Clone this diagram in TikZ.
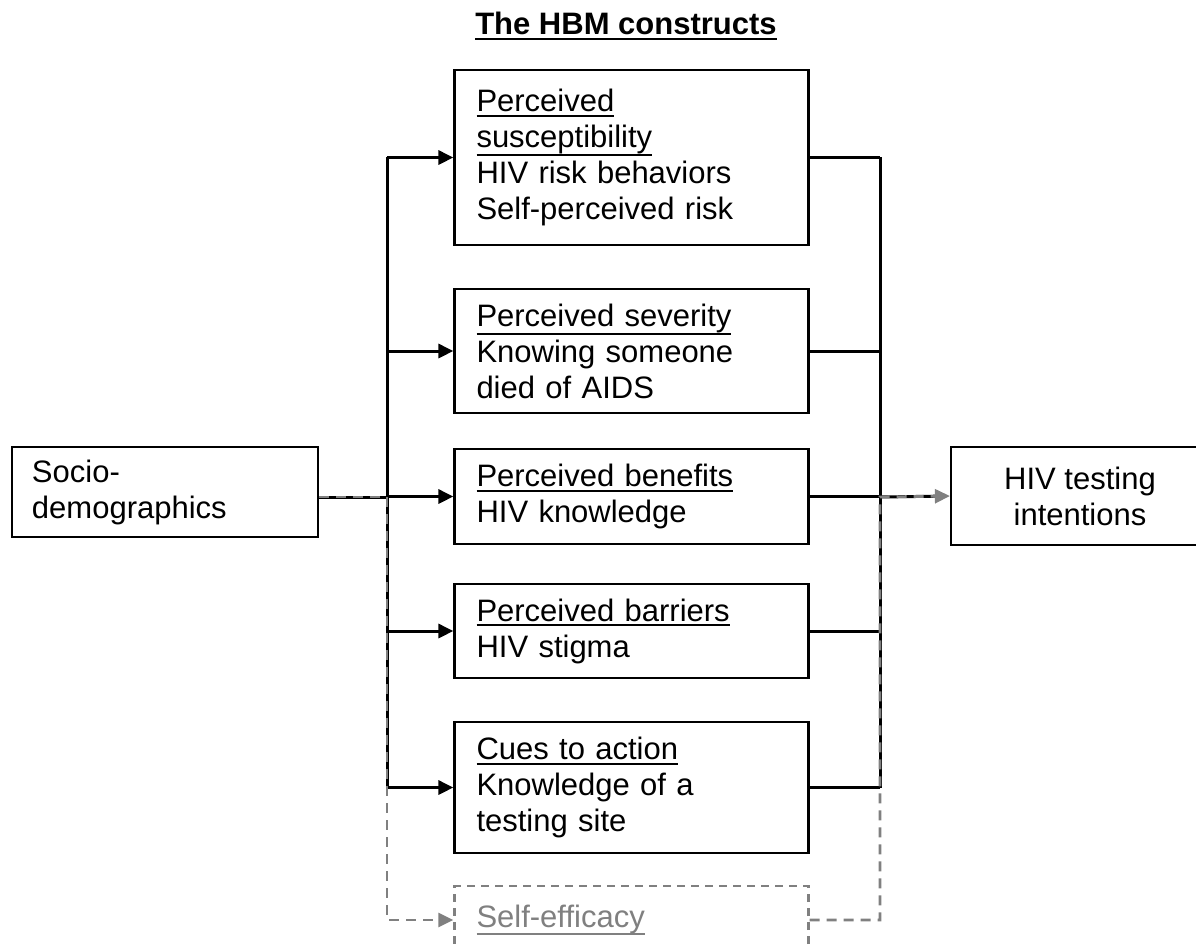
\documentclass[tikz,border=0pt]{standalone}
\usepackage{fontspec}
\setmainfont{Liberation Sans}
\usetikzlibrary{arrows.meta}
\newcommand\ulin[1]{\setbox0\hbox{#1}\leavevmode\rlap{\raisebox{-\dimexpr\dp0/2+2.6pt\relax}{\rule{\wd0}{1pt}}}\box0}
\begin{document}
\begin{tikzpicture}[x=0.5pt,y=-0.5pt,
  font=\fontsize{15.5}{18}\selectfont,
  cbox/.style={draw,line width=1.1pt,text width=155pt,inner xsep=11pt,inner ysep=2pt,align=left},
  conn/.style={line width=1.5pt},
  tip/.style={-{Triangle[length=7.5pt,width=7pt]}},
  grayline/.style={gray,line width=1.4pt,dash pattern=on 5pt off 3.5pt}]
\useasboundingbox (0,0) rectangle (1196,949);
\clip (0,0) rectangle (1196,949);
\node[font=\fontsize{15.5}{18}\selectfont\bfseries] (title) at (626,26) {\ulin{The HBM constructs}};
\node[cbox,minimum height=87.5pt] (sus) at (631.5,157.5) {\ulin{Perceived}\\\ulin{susceptibility}\\HIV risk behaviors\\Self-perceived risk};
\node[cbox,minimum height=62pt] (sev) at (631.5,351) {\ulin{Perceived severity}\\Knowing someone\\died of AIDS};
\node[cbox,minimum height=47.5pt] (ben) at (631.5,496.5) {\ulin{Perceived benefits}\\HIV knowledge};
\node[cbox,minimum height=47pt] (bar) at (631.5,631) {\ulin{Perceived barriers}\\HIV stigma};
\node[cbox,minimum height=65.5pt] (cue) at (631.5,787.5) {\ulin{Cues to action}\\Knowledge of a\\testing site};
\node[cbox,draw=gray,dash pattern=on 4pt off 3pt,text=gray,minimum height=34pt] (self) at (631.5,920) {\ulin{Self-efficacy}};
\node[draw,line width=1.1pt,text width=133pt,inner xsep=10pt,inner ysep=2pt,align=left,minimum height=45pt] (socio) at (165,492) {Socio-\\demographics};
\node[draw,line width=1.1pt,minimum width=129pt,minimum height=49pt,inner sep=2pt,align=center] (hiv) at (1080,496) {HIV testing\\intentions};
\coordinate (lt) at (387,157);
\coordinate (lb) at (387,788);
\coordinate (rt) at (880,157);
\coordinate (rb) at (880,788);
\coordinate (jl) at (387,497);
\coordinate (jr) at (880,497);
\coordinate (sl) at (387,920);
\coordinate (sr) at (880,920);
\draw[conn] (lt) -- (lb);
\draw[conn] (rt) -- (rb);
\foreach \b in {sus,sev,ben,bar,cue}{%
  \draw[conn,tip] (lt |- \b.west) -- (\b.west);
  \draw[conn] (\b.east) -- (rt |- \b.east);
}
\draw[conn] (socio.east |- jl) -- (jl);
\draw[conn,shorten >=7pt] (jr) -- (hiv.west);
\draw[grayline,tip] (socio.east |- jl) -- (jl) -- (sl) -- (self.west);
\draw[grayline,tip] (self.east) -- (sr) -- (jr) -- (hiv.west);
\end{tikzpicture}
\end{document}
